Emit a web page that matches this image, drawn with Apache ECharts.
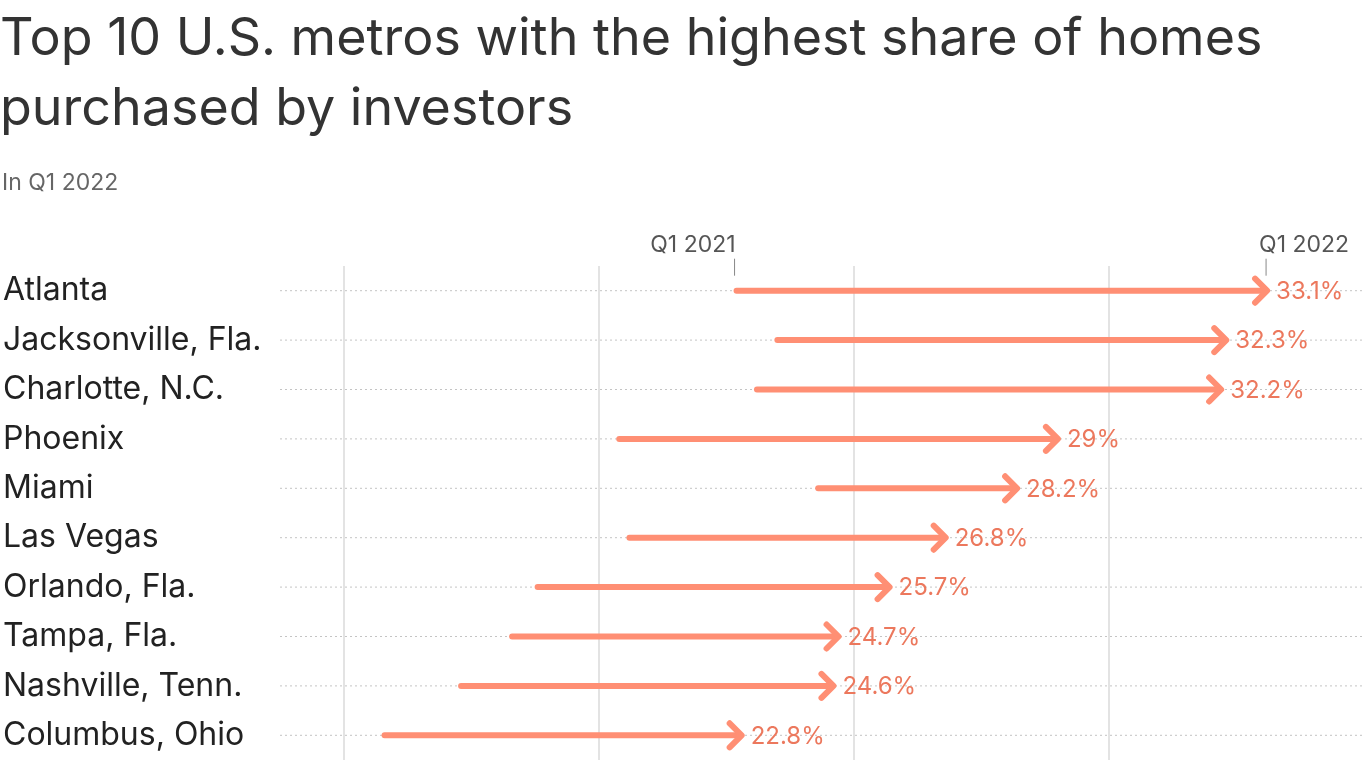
<!DOCTYPE html>
<html>
<head>
<meta charset="utf-8">
<script src="https://cdn.jsdelivr.net/npm/echarts@6/dist/echarts.min.js"></script>
<style>
html,body{margin:0;padding:0;background:#fff;}
#chart{width:1366px;height:768px;}
</style>
</head>
<body>
<div id="chart"></div>
<script>
const categories = ['Atlanta', 'Jacksonville, Fla.', 'Charlotte, N.C.', 'Phoenix', 'Miami', 'Las Vegas', 'Orlando, Fla.', 'Tampa, Fla.', 'Nashville, Tenn.', 'Columbus, Ohio'];
const q1_2021 = [22.7, 23.5, 23.1, 20.4, 24.3, 20.6, 18.8, 18.3, 17.3, 15.8];
const q1_2022 = [33.1, 32.3, 32.2, 29.0, 28.2, 26.8, 25.7, 24.7, 24.6, 22.8];
const valueLabels = ['33.1%', '32.3%', '32.2%', '29%', '28.2%', '26.8%', '25.7%', '24.7%', '24.6%', '22.8%'];
const gridValues = [15, 20, 25, 30];
const periodLabels = ['Q1 2021', 'Q1 2022'];

const FONT = 'Inter';
const ARROW = '#ff8f74';
const LABEL = '#ec785d';

function renderItem(params, api) {
  const idx = params.dataIndex;
  const cat = api.value(0);
  const s = api.coord([api.value(1), cat]);
  const e = api.coord([api.value(2), cat]);
  const cs = params.coordSys;
  const y = s[1];
  const children = [
    {type: 'line', shape: {x1: cs.x, y1: y, x2: cs.x + cs.width, y2: y},
     style: {stroke: '#c4c4c4', lineWidth: 1, lineDash: [2, 3]}},
    {type: 'line', shape: {x1: s[0], y1: y, x2: e[0] - 2, y2: y},
     style: {stroke: ARROW, lineWidth: 6, lineCap: 'round'}},
    {type: 'polyline', shape: {points: [[e[0] - 12, y - 12], [e[0], y], [e[0] - 12, y + 12]]},
     style: {stroke: ARROW, fill: null, lineWidth: 6, lineCap: 'round', lineJoin: 'round'}},
    {type: 'text', style: {x: e[0] + 9, y: y + 1, text: valueLabels[idx], fill: LABEL,
     fontSize: 24, fontFamily: FONT, align: 'left', verticalAlign: 'middle'}}
  ];
  if (idx === 0) {
    children.push(
      {type: 'line', shape: {x1: s[0] - 2, y1: y - 32, x2: s[0] - 2, y2: y - 15},
       style: {stroke: '#888', lineWidth: 1}},
      {type: 'text', style: {x: s[0] - 1, y: y - 34, text: periodLabels[0], fill: '#555',
       fontSize: 23, fontFamily: FONT, align: 'right', verticalAlign: 'bottom'}},
      {type: 'line', shape: {x1: e[0] - 1, y1: y - 32, x2: e[0] - 1, y2: y - 15},
       style: {stroke: '#888', lineWidth: 1}},
      {type: 'text', style: {x: e[0] - 8, y: y - 34, text: periodLabels[1], fill: '#555',
       fontSize: 23, fontFamily: FONT, align: 'left', verticalAlign: 'bottom'}}
    );
  }
  return {type: 'group', children: children};
}

const chart = echarts.init(document.getElementById('chart'), null, {renderer: 'canvas'});
chart.setOption({
  animation: false,
  backgroundColor: '#fff',
  title: [
    {text: 'Top 10 U.S. metros with the highest share of homes\npurchased by investors',
     left: -5, top: -1,
     textStyle: {fontFamily: FONT, fontSize: 52, fontWeight: 'normal', color: '#333', lineHeight: 70}},
    {text: 'In Q1 2022', left: -3, top: 167,
     textStyle: {fontFamily: FONT, fontSize: 23, fontWeight: 'normal', color: '#666'}}
  ],
  grid: {left: 279, right: 2, top: 266, bottom: 8},
  xAxis: {type: 'value', min: 13.75, max: 35, show: false},
  yAxis: {
    type: 'category', data: categories, inverse: true,
    axisLine: {show: false}, axisTick: {show: false}, splitLine: {show: false},
    axisLabel: {fontFamily: FONT, fontSize: 32, color: '#222', align: 'left', margin: 277}
  },
  series: [
    {
      type: 'line', data: [], silent: true,
      markLine: {
        silent: true, symbol: ['none', 'none'], label: {show: false},
        lineStyle: {color: '#e3e3e3', width: 2, type: 'solid'},
        data: gridValues.map(v => ({xAxis: v}))
      }
    },
    {
      type: 'custom', renderItem: renderItem, z: 5,
      encode: {x: [1, 2], y: 0},
      data: categories.map((c, i) => [i, q1_2021[i], q1_2022[i]])
    }
  ]
});
</script>
</body>
</html>
